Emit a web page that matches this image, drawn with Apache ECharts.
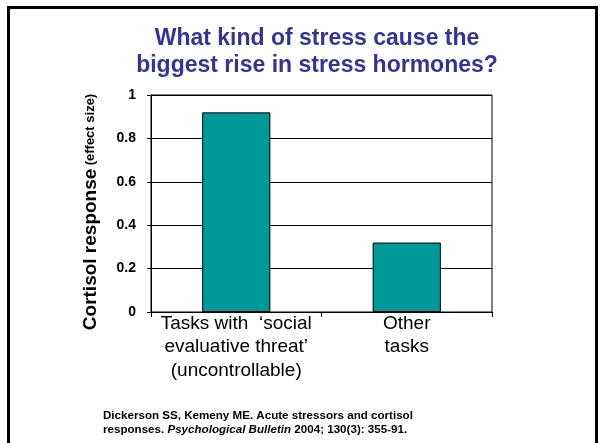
<!DOCTYPE html>
<html>
<head>
<meta charset="utf-8">
<script src="https://cdn.jsdelivr.net/npm/echarts@6/dist/echarts.min.js"></script>
<style>
html,body{margin:0;padding:0;background:#fff;}
#c{width:603px;height:443px;}
</style>
</head>
<body>
<div id="c"></div>
<script>
var categories = ['Tasks with  \u2018social\nevaluative threat\u2019\n(uncontrollable)', 'Other\ntasks'];
var cortisolEffect = [0.92, 0.32];
var yTickValues = [0, 0.2, 0.4, 0.6, 0.8, 1];
var yTickLabels = ['0', '0.2', '0.4', '0.6', '0.8', '1'];
var titleLines = ['What kind of stress cause the', 'biggest rise in stress hormones?'];
var yAxisName = ['Cortisol response', '(effect size)'];
var citation = ['Dickerson SS, Kemeny ME. Acute stressors and cortisol', 'responses. ', 'Psychological Bulletin', ' 2004; 130(3): 355-91.'];

var FONT = "'Liberation Sans', Arial, sans-serif";
var chart = echarts.init(document.getElementById('c'), null, {renderer: 'canvas'});
chart.setOption({
  backgroundColor: '#fff',
  animation: false,
  textStyle: {fontFamily: FONT},
  title: [{
    text: titleLines.join('\n'),
    left: 317,
    top: 25,
    padding: 0,
    textAlign: 'center',
    textStyle: {fontFamily: FONT, fontSize: 23, fontWeight: 'bold', color: '#333399', lineHeight: 27}
  }, {
    text: '{b|' + citation[0] + '}\n{b|' + citation[1] + '}{i|' + citation[2] + '}{b|' + citation[3] + '}',
    left: 103,
    top: 409,
    padding: 0,
    textStyle: {
      fontFamily: FONT, fontSize: 11.6, fontWeight: 'bold', color: '#000', lineHeight: 14,
      rich: {
        b: {fontFamily: FONT, fontSize: 11.6, fontWeight: 'bold', color: '#000', lineHeight: 14},
        i: {fontFamily: FONT, fontSize: 11.6, fontWeight: 'bold', fontStyle: 'italic', color: '#000', lineHeight: 14}
      }
    }
  }],
  graphic: [{
    type: 'rect',
    shape: {x: 8.5, y: 7.5, width: 588, height: 500},
    style: {fill: 'none', stroke: '#000', lineWidth: 3},
    silent: true
  }],
  grid: {
    left: 151, right: 111, top: 95, bottom: 131,
    show: true, borderColor: '#000', borderWidth: 1, backgroundColor: 'transparent'
  },
  xAxis: {
    type: 'category',
    data: categories,
    axisLine: {show: true, lineStyle: {color: '#000', width: 1}},
    axisTick: {show: true, length: 5, lineStyle: {color: '#000'}},
    axisLabel: {interval: 0, margin: 0, fontFamily: FONT, fontSize: 19, color: '#000', lineHeight: 23.5},
    splitLine: {show: false}
  },
  yAxis: {
    type: 'value',
    min: 0, max: 1, interval: 0.2,
    name: '{a|' + yAxisName[0] + '} {b|' + yAxisName[1] + '}',
    nameLocation: 'middle',
    nameRotate: 90,
    nameGap: 51,
    nameTextStyle: {
      padding: [0, 17, 0, 0],
      rich: {
        a: {fontFamily: FONT, fontSize: 19, fontWeight: 'bold', color: '#000'},
        b: {fontFamily: FONT, fontSize: 13, fontWeight: 'bold', color: '#000'}
      }
    },
    axisLine: {show: true, lineStyle: {color: '#000', width: 1}},
    axisTick: {show: true, length: 4, lineStyle: {color: '#000'}},
    axisLabel: {
      margin: 15, fontFamily: FONT, fontSize: 14, fontWeight: 'bold', color: '#000',
      formatter: function (v) {
        var i = yTickValues.findIndex(function (t) { return Math.abs(t - v) < 1e-9; });
        return i >= 0 ? yTickLabels[i] : String(v);
      }
    },
    splitLine: {show: true, lineStyle: {color: '#000', width: 1}}
  },
  series: [{
    type: 'bar',
    data: cortisolEffect,
    barWidth: '40%',
    itemStyle: {color: '#009999', borderColor: '#000', borderWidth: 1},
    silent: true
  }]
});
</script>
</body>
</html>
